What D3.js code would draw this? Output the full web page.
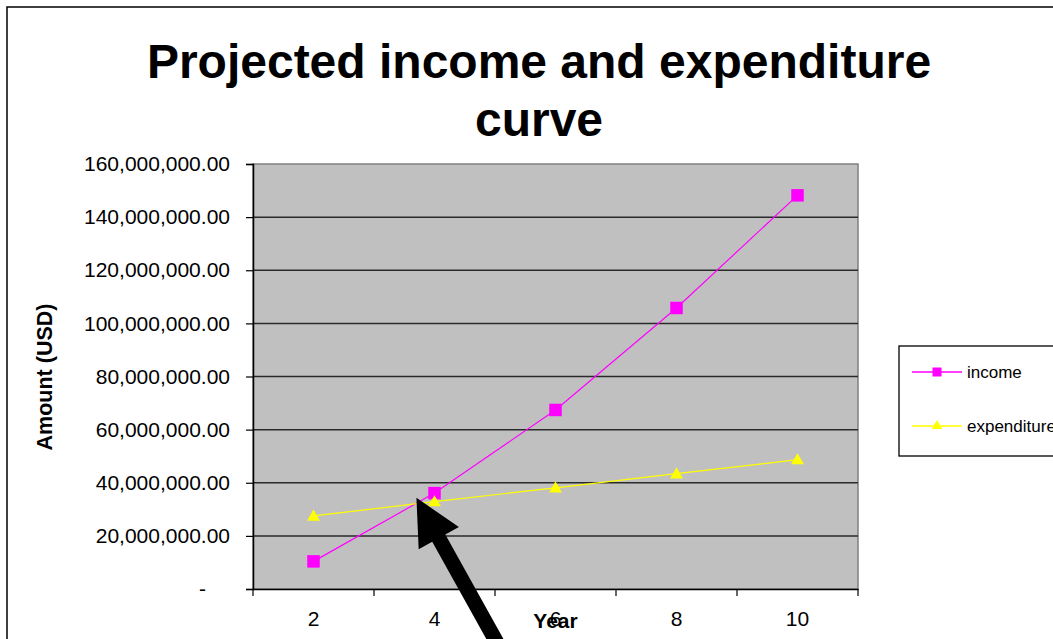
<!DOCTYPE html>
<html>
<head>
<meta charset="utf-8">
<script src="https://cdn.jsdelivr.net/npm/d3@7"></script>
<style>
  html, body { margin: 0; padding: 0; background: #fff; overflow: hidden; }
  svg { display: block; font-family: "Liberation Sans", Arial, sans-serif; }
</style>
</head>
<body>
<svg id="chart" width="1053" height="639"></svg>
<script>
// ---- data ----
const years = ["2", "4", "6", "8", "10"];
const income = [10400000, 36100000, 67400000, 105800000, 148200000];
const expenditure = [27500000, 32900000, 38100000, 43400000, 48700000];
const yTicks = [0, 20000000, 40000000, 60000000, 80000000, 100000000, 120000000, 140000000, 160000000];
const seriesNames = ["income", "expenditure"];
const titleLines = ["Projected income and expenditure", "curve"];
const xTitle = "Year";
const yTitle = "Amount (USD)";

// ---- layout ----
const W = 1053, H = 639;
const plot = { left: 253, right: 858, top: 164, bottom: 589 };
const svg = d3.select("#chart");

const x = d3.scaleBand().domain(years).range([plot.left, plot.right]);
const y = d3.scaleLinear().domain([0, 160000000]).range([plot.bottom, plot.top]);

// outer chart border
svg.append("rect").attr("x", 7).attr("y", 7).attr("width", 1080).attr("height", 700)
  .attr("fill", "#fff").attr("stroke", "#000").attr("stroke-width", 1.5);

// title
const title = svg.append("text").attr("text-anchor", "middle")
  .attr("font-size", 48).attr("font-weight", "bold").attr("fill", "#000");
titleLines.forEach((t, i) => {
  title.append("tspan").attr("x", 539).attr("y", i === 0 ? 78 : 136).text(t);
});

// plot area
svg.append("rect").attr("x", plot.left).attr("y", plot.top)
  .attr("width", plot.right - plot.left).attr("height", plot.bottom - plot.top)
  .attr("fill", "#c0c0c0").attr("stroke", "#808080").attr("stroke-width", 1.5);

// gridlines
svg.append("g").selectAll("line").data(yTicks.filter(d => d > 0 && d < 160000000)).join("line")
  .attr("x1", plot.left).attr("x2", plot.right)
  .attr("y1", d => y(d)).attr("y2", d => y(d))
  .attr("stroke", "#2a2a2a").attr("stroke-width", 1.5);

// y axis
const fmt = d3.format(",.2f");
const yAxis = d3.axisLeft(y).tickValues(yTicks).tickSize(7).tickPadding(16)
  .tickFormat(d => d === 0 ? "-" : fmt(d));
const gy = svg.append("g").attr("transform", `translate(${plot.left},0)`).call(yAxis);
gy.select(".domain").attr("stroke", "#000").attr("stroke-width", 1.5);
gy.selectAll(".tick line").attr("stroke", "#000").attr("stroke-width", 1.2);
gy.selectAll(".tick text").attr("font-size", 21).attr("fill", "#000")
  .attr("font-family", "Liberation Sans, Arial, sans-serif");
// accounting-style zero: dash followed by two digit spaces
gy.selectAll(".tick text").filter(d => d === 0).attr("dx", -24);

// x axis (category, ticks between categories)
const xAxis = d3.axisBottom(x).tickSize(0).tickPadding(22);
const gx = svg.append("g").attr("transform", `translate(0,${plot.bottom})`).call(xAxis);
gx.select(".domain").attr("stroke", "#000").attr("stroke-width", 1.5);
gx.selectAll(".tick text").attr("font-size", 21).attr("fill", "#000")
  .attr("font-family", "Liberation Sans, Arial, sans-serif");
const boundaries = years.map(d => x(d)).concat([x(years[years.length - 1]) + x.bandwidth()]);
svg.append("g").selectAll("line").data(boundaries).join("line")
  .attr("x1", d => d).attr("x2", d => d)
  .attr("y1", plot.bottom).attr("y2", plot.bottom + 7)
  .attr("stroke", "#000").attr("stroke-width", 1.2);

// axis titles
svg.append("text").attr("x", x("6") + x.bandwidth() / 2).attr("y", 628)
  .attr("text-anchor", "middle").attr("font-size", 21).attr("font-weight", "bold").text(xTitle);
svg.append("text").attr("transform", `translate(52,377) rotate(-90)`)
  .attr("text-anchor", "middle").attr("font-size", 21.5).attr("font-weight", "bold").text(yTitle);

// series
const cx = d => x(d) + x.bandwidth() / 2;
const line = d3.line().x(d => cx(d[0])).y(d => y(d[1]));
const incData = years.map((k, i) => [k, income[i]]);
const expData = years.map((k, i) => [k, expenditure[i]]);

svg.append("path").datum(incData).attr("d", line).attr("fill", "none")
  .attr("stroke", "#ff00ff").attr("stroke-width", 1.2);
svg.append("path").datum(expData).attr("d", line).attr("fill", "none")
  .attr("stroke", "#ffff00").attr("stroke-width", 1.2);

const sq = 12.5;
svg.append("g").selectAll("rect").data(incData).join("rect")
  .attr("x", d => cx(d[0]) - sq / 2).attr("y", d => y(d[1]) - sq / 2)
  .attr("width", sq).attr("height", sq).attr("fill", "#ff00ff");

const tri = d3.symbol().type(d3.symbolTriangle).size(72);
svg.append("g").selectAll("path").data(expData).join("path")
  .attr("d", tri).attr("transform", d => `translate(${cx(d[0])},${y(d[1]) + 1})`)
  .attr("fill", "#ffff00");

// legend
const lg = svg.append("g");
lg.append("rect").attr("x", 899).attr("y", 346).attr("width", 200).attr("height", 110)
  .attr("fill", "#fff").attr("stroke", "#000").attr("stroke-width", 1.3);
const legendY = [372, 426];
const legendColors = ["#ff00ff", "#ffff00"];
seriesNames.forEach((name, i) => {
  lg.append("line").attr("x1", 912).attr("x2", 962).attr("y1", legendY[i]).attr("y2", legendY[i])
    .attr("stroke", legendColors[i]).attr("stroke-width", 1.3);
  if (i === 0) {
    lg.append("rect").attr("x", 937 - 4.5).attr("y", legendY[i] - 4.5).attr("width", 9).attr("height", 9)
      .attr("fill", legendColors[i]);
  } else {
    lg.append("path").attr("d", d3.symbol().type(d3.symbolTriangle).size(48))
      .attr("transform", `translate(937,${legendY[i]})`).attr("fill", legendColors[i]);
  }
  lg.append("text").attr("x", 967).attr("y", legendY[i]).attr("dy", "0.35em")
    .attr("font-size", 17).attr("fill", "#000").text(name);
});

// annotation arrow pointing at the crossing of the two series
(function () {
  const i0 = 0, i1 = 1;
  const d0 = income[i0] - expenditure[i0];
  const d1 = income[i1] - expenditure[i1];
  const t = d0 / (d0 - d1);
  const px = cx(years[i0]) + t * (cx(years[i1]) - cx(years[i0]));
  const py = y(income[i0] + t * (income[i1] - income[i0]));
  const tip = [px + 1, py - 6];
  const ang = Math.atan2(143, 79.5);
  const ux = Math.cos(ang), uy = Math.sin(ang);
  const nx = -uy, ny = ux;
  const headL = 46, headW = 23, shaftW = 7.5, len = 260;
  const bx = tip[0] + ux * headL, by = tip[1] + uy * headL;
  const pts = [
    tip,
    [bx + nx * headW, by + ny * headW],
    [bx + nx * shaftW, by + ny * shaftW],
    [tip[0] + ux * len + nx * shaftW, tip[1] + uy * len + ny * shaftW],
    [tip[0] + ux * len - nx * shaftW, tip[1] + uy * len - ny * shaftW],
    [bx - nx * shaftW, by - ny * shaftW],
    [bx - nx * headW, by - ny * headW]
  ];
  svg.append("path").attr("d", "M" + pts.map(p => p.join(",")).join("L") + "Z").attr("fill", "#000");
})();
</script>
</body>
</html>
